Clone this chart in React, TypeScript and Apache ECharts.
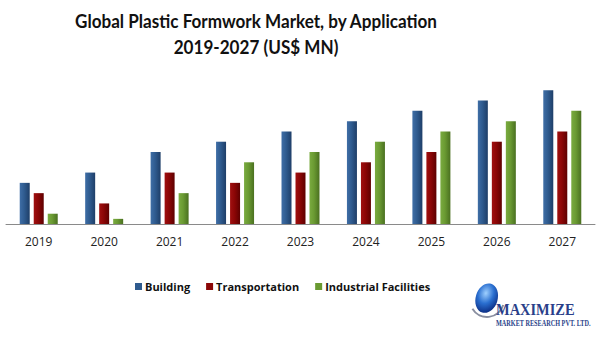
import React, { useEffect, useRef } from "react";
import * as echarts from "echarts";

const years = ["2019", "2020", "2021", "2022", "2023", "2024", "2025", "2026", "2027"];
const building = [4, 5, 7, 8, 9, 10, 11, 12, 13];
const transportation = [3, 2, 5, 4, 5, 6, 7, 8, 9];
const industrial = [1, 0.5, 3, 6, 7, 8, 9, 10, 11];
const titleLines = ["Global Plastic Formwork Market, by Application", "2019-2027 (US$ MN)"];

const grad = (l: string, m: string, r: string) =>
  new echarts.graphic.LinearGradient(0, 0, 1, 0, [
    { offset: 0, color: l },
    { offset: 0.45, color: m },
    { offset: 1, color: r },
  ]);

export default function App() {
  const ref = useRef<HTMLDivElement>(null);
  useEffect(() => {
    if (!ref.current) return;
    const chart = echarts.init(ref.current, undefined, { renderer: "svg" });
    const blue = grad("#3f6ea6", "#2f5b8f", "#1e3e68");
    const red = grad("#a01010", "#8b0606", "#5e0000");
    const green = grad("#7aab40", "#6a9a32", "#4a7020");
    const titleStyle = {
      fontFamily: "Lato",
      fontWeight: "bold",
      fontSize: 18,
      fill: "#111111",
      textAlign: "center",
      textVerticalAlign: "middle",
    };
    chart.setOption({
      animation: false,
      backgroundColor: "#ffffff",
      legend: {
        left: 130,
        top: 276,
        itemWidth: 7,
        itemHeight: 7,
        itemGap: 16,
        icon: "rect",
        textStyle: {
          fontFamily: "Open Sans",
          fontWeight: "bold",
          fontSize: 11,
          color: "#111111",
          padding: [0, 0, 0, -2],
        },
        data: [
          { name: "Building", itemStyle: { color: "#2f5b8f" } },
          { name: "Transportation", itemStyle: { color: "#8b0606" } },
          { name: "Industrial Facilities", itemStyle: { color: "#6a9a32" } },
        ],
      },
      grid: { left: 6, right: 10, top: 80, bottom: 113, containLabel: false },
      xAxis: {
        type: "category",
        data: years,
        axisLine: { lineStyle: { color: "#8a8a8a", width: 1 } },
        axisTick: { show: false },
        axisLabel: {
          fontFamily: "Open Sans",
          fontSize: 12,
          color: "#222222",
          margin: 11,
        },
      },
      yAxis: {
        type: "value",
        min: 0,
        max: 14,
        show: false,
        splitLine: { show: false },
      },
      series: [
        { name: "Building", type: "bar", data: building, barWidth: 10, barGap: "40%", itemStyle: { color: blue } },
        { name: "Transportation", type: "bar", data: transportation, barWidth: 10, barGap: "40%", itemStyle: { color: red } },
        { name: "Industrial Facilities", type: "bar", data: industrial, barWidth: 10, barGap: "40%", itemStyle: { color: green } },
      ],
      graphic: [
        {
          type: "text",
          x: 256,
          y: 21,
          scaleX: 0.95,
          style: { ...titleStyle, text: titleLines[0] },
        },
        {
          type: "text",
          x: 256,
          y: 47,
          scaleX: 0.95,
          style: { ...titleStyle, text: titleLines[1] },
        },
        {
          type: "arc",
          shape: { cx: 487, cy: 300, r: 17, startAngle: 0.3, endAngle: 2.6 },
          style: { stroke: "#8a8fa0", lineWidth: 2, fill: "none" },
        },
        {
          type: "ellipse",
          shape: { cx: 487, cy: 298, rx: 11, ry: 15 },
          rotation: -0.3,
          originX: 487,
          originY: 298,
          style: {
            fill: new echarts.graphic.RadialGradient(0.4, 0.35, 0.7, [
              { offset: 0, color: "#9fd0ff" },
              { offset: 0.5, color: "#2a6fd0" },
              { offset: 1, color: "#0a2a80" },
            ]),
          },
        },
        {
          type: "text",
          x: 496,
          y: 318,
          scaleX: 0.85,
          style: {
            text: "MAXIMIZE",
            fontFamily: "Liberation Serif",
            fontWeight: "bold",
            fontSize: 17,
            fill: "#2a3f8a",
            textVerticalAlign: "bottom",
          },
        },
        {
          type: "text",
          x: 496,
          y: 328,
          scaleX: 0.78,
          style: {
            text: "MARKET RESEARCH PVT. LTD.",
            fontFamily: "Liberation Serif",
            fontWeight: "bold",
            fontSize: 8,
            fill: "#2a3f8a",
            textVerticalAlign: "bottom",
          },
        },
      ],
    });
    return () => chart.dispose();
  }, []);
  return <div ref={ref} style={{ width: 605, height: 337, position: "absolute", left: 0, top: 0 }} />;
}
